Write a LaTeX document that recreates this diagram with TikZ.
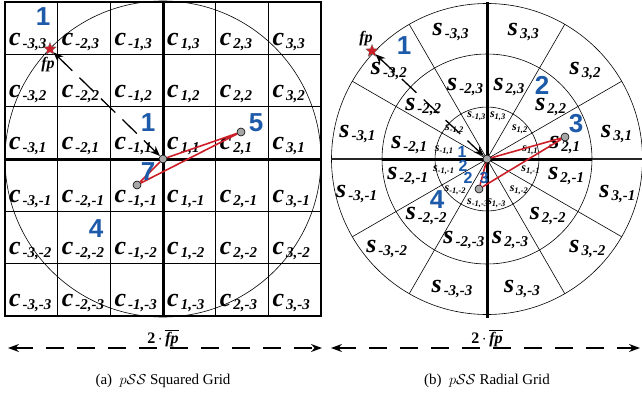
\documentclass[tikz,border=0pt]{standalone}
\usepackage{fontspec}
\setmainfont{Liberation Serif}
\newfontfamily\numfont{Liberation Sans}
\usetikzlibrary{shapes.geometric,arrows.meta,calc}
\definecolor{numblue}{RGB}{30,90,170}
\definecolor{linered}{RGB}{205,30,40}
\newcommand{\biglab}[2]{{\fontsize{26}{26}\selectfont\bfseries\itshape #1}\hspace{2pt}\raisebox{-3pt}{\fontsize{15}{15}\selectfont\bfseries\itshape #2}}
\newcommand{\smalllab}[2]{{\fontsize{12}{12}\selectfont\bfseries\itshape #1}\raisebox{-2pt}{\fontsize{8.5}{8.5}\selectfont\bfseries\itshape #2}}
\tikzset{
  gridline/.style={line width=0.9pt},
  axisline/.style={line width=3pt},
  thinc/.style={line width=0.6pt},
  dot/.style={circle,draw=black,fill=gray!70,line width=0.6pt,minimum size=8pt,inner sep=0pt},
  fpstar/.style={star,star points=5,star point ratio=2.3,fill=linered,draw=black!60,line width=0.3pt,minimum size=13pt,inner sep=0pt},
  redline/.style={draw=linered,line width=1.6pt},
  diagarrow/.style={line width=1.3pt,dash pattern=on 20pt off 10pt,{Stealth[length=10pt,width=8pt]}-{Stealth[length=10pt,width=8pt]}},
  widtharrow/.style={line width=1.3pt,dash pattern=on 18pt off 13pt,{Stealth[length=11pt,width=8pt]}-{Stealth[length=11pt,width=8pt]}},
  bignum/.style={text=numblue,font=\numfont\bfseries\fontsize{26}{26}\selectfont,inner sep=0pt},
  smallnum/.style={text=numblue,font=\numfont\bfseries\fontsize{16}{16}\selectfont,inner sep=0pt},
  celltext/.style={anchor=base west,inner sep=0pt},
  ringtext/.style={anchor=center,inner sep=0pt},
  fptext/.style={font=\bfseries\itshape\fontsize{16}{16}\selectfont,inner sep=0pt},
  widthtext/.style={font=\fontsize{16}{16}\selectfont,inner sep=0pt,anchor=base},
  captext/.style={font=\fontsize{15}{15}\selectfont,inner sep=0pt,anchor=base}
}
\begin{document}
\begin{tikzpicture}[x=1pt,y=-1pt]
\useasboundingbox (0,0) rectangle (642,396);
% ================= (a) squared grid =================
\foreach \k in {1,2,4,5} {
  \draw[gridline] ({5+\k*52.67},2) -- ({5+\k*52.67},316);
  \draw[gridline] (5,{2+\k*52.33}) -- (321,{2+\k*52.33});
}
\draw[line width=1.6pt] (5,2) rectangle (321,316);
\draw[thinc] (163,159) circle[radius=158pt];
\draw[axisline] (163,2) -- (163,316);
\draw[axisline] (5,159) -- (321,159);
\foreach \i/\col in {-3/0,-2/1,-1/2,1/3,2/4,3/5} {
  \foreach \j/\row in {3/0,2/1,1/2,-1/3,-2/4,-3/5} {
    \node[celltext] (c\col\row) at ({5+\col*52.67+4},{2+(\row+1)*52.33-9}) {\biglab{c}{\i,\j}};
  }
}
\node[dot] (Lc) at (163,159) {};
\node[dot] (L5) at (241,132) {};
\node[dot] (L7) at (137,185) {};
\node[fpstar] (Lfp) at (50,49) {};
\node[fptext] (Lfpt) at (48,65) {fp};
\draw[diagarrow] (Lfp) -- (Lc);
\draw[redline] (Lc) -- (L5) -- (L7) -- (Lc);
\node[bignum] (Ln1a) at (43,17) {1};
\node[bignum] (Ln1b) at (148,123) {1};
\node[bignum] (Ln5) at (256,123) {5};
\node[bignum] (Ln7) at (148,172) {7};
\node[bignum] (Ln4) at (96,229) {4};
% ================= (b) radial grid =================
\coordinate (R0) at (487,159);
\draw[thinc] (R0) circle[radius=155.5pt];
\draw[thinc] (R0) circle[radius=105pt];
\draw[thinc] (R0) circle[radius=52pt];
\foreach \a in {30,60,120,150,210,240,300,330} {
  \draw[thinc] (R0) -- ++(\a:155.5pt);
}
\draw[axisline] (487,2) -- (487,318);
\draw[line width=2pt,black!85] (331,159) -- (382,159);
\draw[line width=2pt,black!85] (592,159) -- (642,159);
\draw[axisline] (382,159) -- (592,159);
% outer ring labels
\foreach \j/\th/\tl in {1/11/15,2/42/42,3/74/75} {
  \node[ringtext] at ($(R0)+(\th:132pt)$) {\biglab{s}{3,\j}};
  \node[ringtext] at ($(R0)+(180-\th:132pt)$) {\biglab{s}{-3,\j}};
  \node[ringtext] at ($(R0)+(-\tl:135pt)$) {\biglab{s}{3,-\j}};
  \node[ringtext] at ($(R0)+(180+\tl:135pt)$) {\biglab{s}{-3,-\j}};
}
% middle ring labels
\foreach \j/\th/\tl/\ru/\rl in {1/10/12/79/81,2/39/43/82/83,3/73/74/75/84} {
  \node[ringtext] at ($(R0)+(\th:\ru pt)$) {\biglab{s}{2,\j}};
  \node[ringtext] at ($(R0)+(180-\th:\ru pt)$) {\biglab{s}{-2,\j}};
  \node[ringtext] at ($(R0)+(-\tl:\rl pt)$) {\biglab{s}{2,-\j}};
  \node[ringtext] at ($(R0)+(180+\tl:\rl pt)$) {\biglab{s}{-2,-\j}};
}
% inner ring labels
\foreach \j/\th/\tl in {1/12/15,2/42/45,3/76/78} {
  \node[ringtext] at ($(R0)+(\th:44pt)$) {\smalllab{s}{1,\j}};
  \node[ringtext] at ($(R0)+(180-\th:44pt)$) {\smalllab{s}{-1,\j}};
  \node[ringtext] at ($(R0)+(-\tl:45pt)$) {\smalllab{s}{1,-\j}};
  \node[ringtext] at ($(R0)+(180+\tl:45pt)$) {\smalllab{s}{-1,-\j}};
}
\node[dot] (Rc) at (R0) {};
\node[dot] (R3) at (565,137) {};
\node[dot] (R23) at (479,189) {};
\node[fpstar] (Rfp) at (372,51) {};
\node[fptext] (Rfpt) at (366,39) {fp};
\draw[diagarrow] (Rfp) -- (Rc);
\draw[redline] (Rc) -- (R3) -- (R23) -- (Rc);
\node[bignum] (Rn1) at (404,46) {1};
\node[bignum] (Rn2) at (542,85) {2};
\node[bignum] (Rn3) at (576,124) {3};
\node[bignum] (Rn4) at (437,200) {4};
\node[smallnum] (Rs1) at (462,152) {1};
\node[smallnum] (Rs2a) at (463,166) {2};
\node[smallnum] (Rs2b) at (468,178) {2};
\node[smallnum] (Rs3) at (484,178) {3};
% ================= bottom =================
\coordinate (LwA) at (8,348);
\coordinate (LwB) at (322,348);
\coordinate (RwA) at (331,348);
\coordinate (RwB) at (640,348);
\draw[widtharrow] (LwA) -- (LwB);
\draw[widtharrow] (RwA) -- (RwB);
\node[widthtext] (Lw) at (163,343) {\textbf{2}\,$\cdot$\,$\overline{\mbox{\bfseries\itshape fp}}$};
\node[widthtext] (Rw) at (487,343) {\textbf{2}\,$\cdot$\,$\overline{\mbox{\bfseries\itshape fp}}$};
\node[captext] (capa) at (163,384) {(a)\enspace$p\mathcal{S}\mathcal{S}$ Squared Grid};
\node[captext] (capb) at (487,384) {(b)\enspace$p\mathcal{S}\mathcal{S}$ Radial Grid};
\end{tikzpicture}
\end{document}
